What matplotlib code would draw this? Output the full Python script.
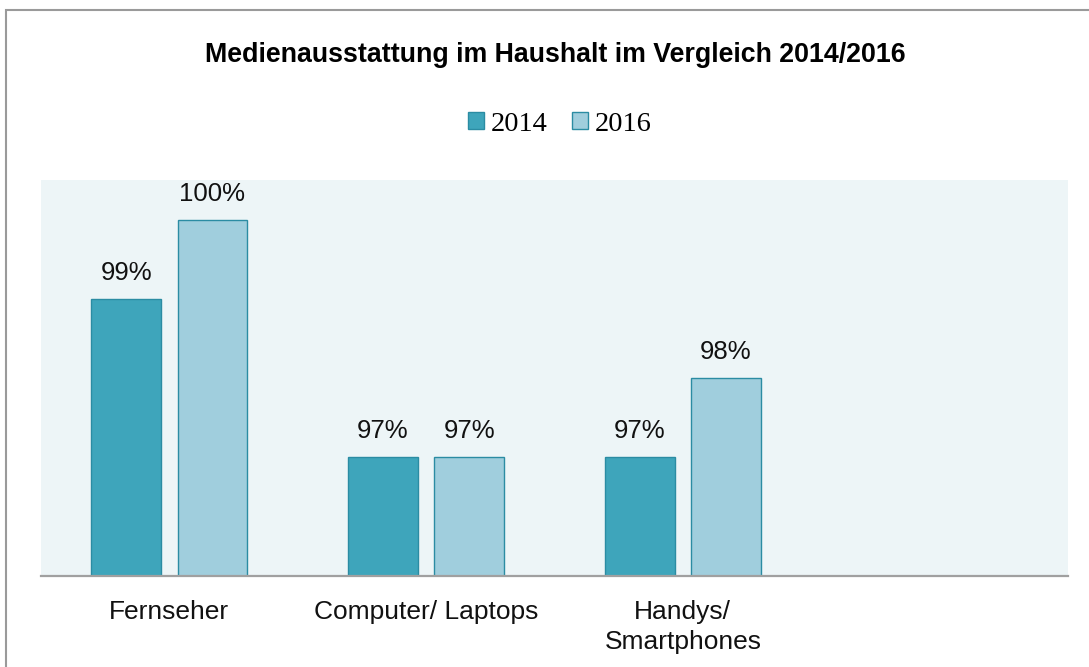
import matplotlib.pyplot as plt
from matplotlib.patches import Rectangle

# --- DATA ---
categories = ["Fernseher", "Computer/ Laptops", "Handys/\nSmartphones", ""]
vals_2014 = [99, 97, 97]
vals_2016 = [100, 97, 98]
series_names = ["2014", "2016"]

# --- STYLE ---
C2014 = "#3ea5bb"
C2016 = "#a0cedd"
EDGE = "#2b8ca3"
BG = "#edf5f7"
WIDTH = 0.272
OFFSET = 0.168

plt.rcParams["font.family"] = ["Liberation Sans", "DejaVu Sans"]

fig = plt.figure(figsize=(10.89, 6.67), dpi=100)
ax = fig.add_axes([0.0376, 0.1364, 0.9431, 0.5937])
ax.set_facecolor(BG)

x = range(len(vals_2014))
b1 = ax.bar([i - OFFSET for i in x], vals_2014, WIDTH, color=C2014,
            edgecolor=EDGE, linewidth=1.0, label=series_names[0])
b2 = ax.bar([i + OFFSET for i in x], vals_2016, WIDTH, color=C2016,
            edgecolor=EDGE, linewidth=1.0, label=series_names[1])

for bars in (b1, b2):
    for rect in bars:
        h = rect.get_height()
        ax.annotate(f"{h:.0f}%", (rect.get_x() + rect.get_width() / 2, h),
                    xytext=(0, 10), textcoords="offset points",
                    ha="center", va="bottom", fontsize=18.5, color="#111111")

ax.set_ylim(95.5, 100.5)
ax.set_xlim(-0.5, 3.5)
ax.set_xticks(range(len(categories)))
ax.set_xticklabels(categories, fontsize=19, color="#111111", linespacing=1.35)
ax.tick_params(axis="x", length=0, pad=17)
ax.set_yticks([])
for s in ("top", "left", "right"):
    ax.spines[s].set_visible(False)
ax.spines["bottom"].set_color("#a0a0a0")
ax.spines["bottom"].set_linewidth(1.6)

fig.text(0.5096, 0.918, "Medienausstattung im Haushalt im Vergleich 2014/2016",
         ha="center", va="center", fontsize=19.3, fontweight="bold")

leg = fig.legend(handles=[b1, b2], loc="center", bbox_to_anchor=(0.514, 0.814),
                 ncol=2, frameon=False, prop={"family": "Liberation Serif", "size": 20.5},
                 handlelength=0.55, handleheight=0.55, handletextpad=0.25,
                 columnspacing=0.85)

# outer chart frame
fig.patches.append(Rectangle((6 / 1089, -0.1), 1.2, 0.1 + 1 - 10 / 667,
                             transform=fig.transFigure, fill=False,
                             edgecolor="#9a9a9a", linewidth=1.5))

fig.savefig("out.png", dpi=100)
